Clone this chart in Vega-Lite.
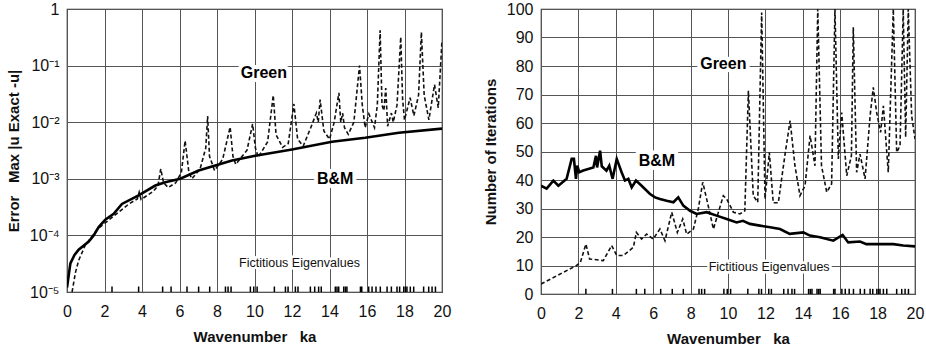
{
  "$schema": "https://vega.github.io/schema/vega-lite/v6.json",
  "background": "white",
  "padding": {"left": 5, "top": 0, "right": 2, "bottom": 2},
  "config": {
    "font": "Liberation Sans",
    "view": {"stroke": "#222", "strokeWidth": 1.2},
    "axis": {
      "labelFont": "Liberation Sans", "labelFontSize": 16, "labelColor": "#111",
      "titleFont": "Liberation Sans", "titleFontSize": 15, "titleFontWeight": "bold", "titleColor": "#111",
      "ticks": false, "domain": false, "grid": true, "gridColor": "#555", "gridWidth": 1, "gridOpacity": 1,
      "labelPadding": 8, "labelOverlap": false, "labelFlush": false
    },
    "axisX": {"labelPadding": 11, "titlePadding": 10},
    "axisY": {"titlePadding": 8}
  },
  "datasets": {
    "eig": [
      {"ka": 2.40}, {"ka": 3.82}, {"ka": 5.10}, {"ka": 5.55}, {"ka": 6.40}, {"ka": 7.02}, {"ka": 7.61},
      {"ka": 8.45}, {"ka": 8.59}, {"ka": 8.75}, {"ka": 9.78}, {"ka": 9.96}, {"ka": 10.14}, {"ka": 11.06},
      {"ka": 11.65}, {"ka": 11.79}, {"ka": 12.18}, {"ka": 12.32}, {"ka": 12.98}, {"ka": 13.21}, {"ka": 13.42},
      {"ka": 13.56}, {"ka": 14.31}, {"ka": 14.40}, {"ka": 14.49}, {"ka": 14.76}, {"ka": 14.85}, {"ka": 14.93},
      {"ka": 15.65}, {"ka": 15.72}, {"ka": 16.09}, {"ka": 16.27}, {"ka": 16.48}, {"ka": 16.71}, {"ka": 17.07},
      {"ka": 17.30}, {"ka": 17.60}, {"ka": 17.74}, {"ka": 17.96}, {"ka": 18.05}, {"ka": 18.13}, {"ka": 18.31},
      {"ka": 18.49}, {"ka": 19.02}, {"ka": 19.29}, {"ka": 19.47}, {"ka": 19.65}
    ],
    "left_bm": [
      {"ka": 0.0, "err": 1.2e-5}, {"ka": 0.18, "err": 3.2e-5}, {"ka": 0.4, "err": 4.5e-5}, {"ka": 0.62, "err": 5.6e-5},
      {"ka": 1.16, "err": 7.8e-5}, {"ka": 1.42, "err": 1.0e-4}, {"ka": 1.69, "err": 1.4e-4}, {"ka": 2.04, "err": 1.9e-4},
      {"ka": 2.49, "err": 2.4e-4}, {"ka": 2.93, "err": 3.6e-4}, {"ka": 3.82, "err": 5.1e-4}, {"ka": 4.71, "err": 7.6e-4},
      {"ka": 5.24, "err": 8.7e-4}, {"ka": 6.04, "err": 1.0e-3}, {"ka": 7.02, "err": 1.4e-3}, {"ka": 8.8, "err": 2.1e-3},
      {"ka": 10.04, "err": 2.55e-3}, {"ka": 12.0, "err": 3.3e-3}, {"ka": 14.13, "err": 4.5e-3}, {"ka": 15.9, "err": 5.3e-3},
      {"ka": 17.7, "err": 6.5e-3}, {"ka": 20.0, "err": 7.7e-3}
    ],
    "left_green": [
      {"ka": 0.27, "err": 1.0e-5}, {"ka": 0.45, "err": 2.2e-5}, {"ka": 0.62, "err": 3.6e-5}, {"ka": 0.98, "err": 6.8e-5},
      {"ka": 1.69, "err": 1.35e-4}, {"ka": 2.5, "err": 2.2e-4}, {"ka": 3.3, "err": 3.6e-4}, {"ka": 3.75, "err": 4.4e-4},
      {"ka": 3.85, "err": 5.8e-4}, {"ka": 3.95, "err": 4.3e-4}, {"ka": 4.6, "err": 6.0e-4}, {"ka": 4.85, "err": 7.5e-4},
      {"ka": 5.0, "err": 1.5e-3}, {"ka": 5.15, "err": 8.5e-4}, {"ka": 5.4, "err": 7.0e-4}, {"ka": 5.8, "err": 8.5e-4},
      {"ka": 6.1, "err": 1.3e-3}, {"ka": 6.3, "err": 4.7e-3}, {"ka": 6.5, "err": 1.3e-3}, {"ka": 6.66, "err": 1.0e-3},
      {"ka": 7.1, "err": 1.5e-3}, {"ka": 7.4, "err": 3.5e-3}, {"ka": 7.5, "err": 1.28e-2}, {"ka": 7.6, "err": 2.5e-3},
      {"ka": 7.87, "err": 1.4e-3}, {"ka": 8.3, "err": 2.2e-3}, {"ka": 8.7, "err": 8.2e-3}, {"ka": 8.85, "err": 2.5e-3},
      {"ka": 9.0, "err": 1.8e-3}, {"ka": 9.6, "err": 3.2e-3}, {"ka": 9.9, "err": 9.3e-3}, {"ka": 10.05, "err": 3.5e-3},
      {"ka": 10.2, "err": 2.4e-3}, {"ka": 10.7, "err": 4.5e-3}, {"ka": 11.0, "err": 3.0e-2}, {"ka": 11.15, "err": 6.0e-3},
      {"ka": 11.5, "err": 3.6e-3}, {"ka": 11.8, "err": 4.2e-3}, {"ka": 12.1, "err": 2.1e-2}, {"ka": 12.3, "err": 5.0e-3},
      {"ka": 12.6, "err": 3.8e-3}, {"ka": 13.0, "err": 8.0e-3}, {"ka": 13.3, "err": 1.45e-2}, {"ka": 13.4, "err": 1.0e-2},
      {"ka": 13.5, "err": 2.5e-2}, {"ka": 13.7, "err": 7.0e-3}, {"ka": 14.0, "err": 5.0e-3}, {"ka": 14.25, "err": 1.0e-2},
      {"ka": 14.5, "err": 3.3e-2}, {"ka": 14.6, "err": 1.0e-2}, {"ka": 14.7, "err": 1.45e-2}, {"ka": 14.8, "err": 8.0e-3},
      {"ka": 15.0, "err": 6.1e-3}, {"ka": 15.3, "err": 1.0e-2}, {"ka": 15.6, "err": 0.10}, {"ka": 15.75, "err": 2.0e-2},
      {"ka": 15.9, "err": 8.0e-3}, {"ka": 16.1, "err": 1.4e-2}, {"ka": 16.4, "err": 8.0e-3}, {"ka": 16.55, "err": 2.0e-2},
      {"ka": 16.7, "err": 0.42}, {"ka": 16.8, "err": 2.0e-2}, {"ka": 16.9, "err": 1.6e-2}, {"ka": 17.0, "err": 4.0e-2},
      {"ka": 17.1, "err": 8.5e-3}, {"ka": 17.3, "err": 1.45e-2}, {"ka": 17.4, "err": 1.0e-2}, {"ka": 17.6, "err": 2.0e-2},
      {"ka": 17.8, "err": 0.32}, {"ka": 17.9, "err": 2.5e-2}, {"ka": 18.0, "err": 1.1e-2}, {"ka": 18.3, "err": 2.7e-2},
      {"ka": 18.5, "err": 1.3e-2}, {"ka": 18.75, "err": 3.0e-2}, {"ka": 18.9, "err": 0.39}, {"ka": 19.05, "err": 3.0e-2},
      {"ka": 19.3, "err": 1.1e-2}, {"ka": 19.6, "err": 4.6e-2}, {"ka": 19.8, "err": 1.8e-2}, {"ka": 20.0, "err": 0.28}
    ],
    "right_bm": [
      {"ka": 0.0, "it": 38.0}, {"ka": 0.3, "it": 37.0}, {"ka": 0.66, "it": 39.8}, {"ka": 0.93, "it": 38.0},
      {"ka": 1.37, "it": 40.4}, {"ka": 1.64, "it": 47.4}, {"ka": 1.76, "it": 47.4}, {"ka": 1.87, "it": 40.4},
      {"ka": 1.94, "it": 45.0}, {"ka": 2.05, "it": 42.7}, {"ka": 2.26, "it": 43.3}, {"ka": 2.8, "it": 44.4},
      {"ka": 2.94, "it": 48.5}, {"ka": 3.0, "it": 44.4}, {"ka": 3.16, "it": 50.3}, {"ka": 3.25, "it": 44.8},
      {"ka": 3.5, "it": 43.3}, {"ka": 3.65, "it": 45.0}, {"ka": 3.83, "it": 40.4}, {"ka": 4.05, "it": 47.4},
      {"ka": 4.31, "it": 42.7}, {"ka": 4.49, "it": 39.8}, {"ka": 4.67, "it": 40.4}, {"ka": 4.85, "it": 37.4},
      {"ka": 5.08, "it": 39.8}, {"ka": 5.38, "it": 38.0}, {"ka": 5.83, "it": 35.1}, {"ka": 6.1, "it": 33.9},
      {"ka": 6.36, "it": 33.3}, {"ka": 6.72, "it": 32.7}, {"ka": 7.08, "it": 32.2}, {"ka": 7.34, "it": 33.9},
      {"ka": 7.61, "it": 31.0}, {"ka": 7.97, "it": 29.2}, {"ka": 8.32, "it": 28.1}, {"ka": 8.86, "it": 28.7},
      {"ka": 9.39, "it": 27.5}, {"ka": 9.93, "it": 26.3}, {"ka": 10.46, "it": 25.1}, {"ka": 10.8, "it": 25.7},
      {"ka": 11.17, "it": 24.6}, {"ka": 11.7, "it": 24.0}, {"ka": 12.25, "it": 23.4}, {"ka": 12.78, "it": 22.8},
      {"ka": 13.3, "it": 21.1}, {"ka": 14.03, "it": 21.6}, {"ka": 14.38, "it": 20.5}, {"ka": 14.92, "it": 19.9},
      {"ka": 15.63, "it": 18.7}, {"ka": 16.13, "it": 20.7}, {"ka": 16.43, "it": 18.1}, {"ka": 17.06, "it": 18.4},
      {"ka": 17.4, "it": 17.5}, {"ka": 18.84, "it": 17.5}, {"ka": 19.37, "it": 17.0}, {"ka": 20.0, "it": 16.7}
    ],
    "right_green": [
      {"ka": 0.0, "it": 3.5}, {"ka": 1.9, "it": 10.0}, {"ka": 2.1, "it": 11.0}, {"ka": 2.4, "it": 17.5},
      {"ka": 2.6, "it": 12.3}, {"ka": 3.33, "it": 11.7}, {"ka": 3.78, "it": 17.0}, {"ka": 4.05, "it": 13.5},
      {"ka": 4.4, "it": 13.5}, {"ka": 4.94, "it": 16.4}, {"ka": 5.1, "it": 21.6}, {"ka": 5.38, "it": 19.3},
      {"ka": 5.65, "it": 21.0}, {"ka": 6.0, "it": 19.3}, {"ka": 6.36, "it": 22.8}, {"ka": 6.63, "it": 18.7},
      {"ka": 6.99, "it": 28.7}, {"ka": 7.29, "it": 21.6}, {"ka": 7.58, "it": 26.3}, {"ka": 7.79, "it": 21.0},
      {"ka": 8.15, "it": 22.8}, {"ka": 8.41, "it": 29.8}, {"ka": 8.65, "it": 39.2}, {"ka": 8.86, "it": 33.3},
      {"ka": 9.22, "it": 22.8}, {"ka": 9.75, "it": 34.5}, {"ka": 9.93, "it": 33.3}, {"ka": 10.29, "it": 28.7},
      {"ka": 10.64, "it": 28.1}, {"ka": 10.9, "it": 29.2}, {"ka": 11.09, "it": 71.3}, {"ka": 11.35, "it": 34.5},
      {"ka": 11.59, "it": 32.2}, {"ka": 11.8, "it": 98.8}, {"ka": 11.98, "it": 33.3}, {"ka": 12.21, "it": 49.7},
      {"ka": 12.42, "it": 32.0}, {"ka": 12.69, "it": 32.0}, {"ka": 13.05, "it": 49.0}, {"ka": 13.32, "it": 60.8},
      {"ka": 13.58, "it": 45.0}, {"ka": 13.85, "it": 34.5}, {"ka": 14.12, "it": 38.0}, {"ka": 14.39, "it": 55.6},
      {"ka": 14.65, "it": 45.0}, {"ka": 14.8, "it": 100.0}, {"ka": 15.0, "it": 45.0}, {"ka": 15.28, "it": 35.7},
      {"ka": 15.54, "it": 38.6}, {"ka": 15.72, "it": 100.0}, {"ka": 15.9, "it": 47.4}, {"ka": 16.08, "it": 63.7},
      {"ka": 16.35, "it": 41.5}, {"ka": 16.6, "it": 48.5}, {"ka": 16.7, "it": 93.6}, {"ka": 16.88, "it": 42.7},
      {"ka": 17.06, "it": 49.1}, {"ka": 17.33, "it": 40.4}, {"ka": 17.6, "it": 62.6}, {"ka": 17.77, "it": 72.5},
      {"ka": 17.95, "it": 63.7}, {"ka": 18.16, "it": 56.7}, {"ka": 18.31, "it": 66.0}, {"ka": 18.57, "it": 42.7},
      {"ka": 18.84, "it": 100.0}, {"ka": 19.02, "it": 49.7}, {"ka": 19.2, "it": 52.0}, {"ka": 19.37, "it": 100.0},
      {"ka": 19.5, "it": 55.0}, {"ka": 19.64, "it": 100.0}, {"ka": 19.82, "it": 62.6}, {"ka": 20.0, "it": 54.4}
    ],
    "left_bold": [
      {"ka": 10.5, "v": 0.075, "t": "Green"},
      {"ka": 14.3, "v": 0.001, "t": "B&M"}
    ],
    "left_plain": [
      {"ka": 12.4, "v": 3.2e-5, "t": "Fictitious Eigenvalues"}
    ],
    "right_bold": [
      {"ka": 9.75, "v": 80.7, "t": "Green"},
      {"ka": 6.2, "v": 46.8, "t": "B&M"}
    ],
    "right_plain": [
      {"ka": 12.2, "v": 9.4, "t": "Fictitious Eigenvalues"}
    ]
  },
  "hconcat": [
    {
      "width": 375, "height": 283,
      "layer": [
        {
          "data": {"name": "left_green"},
          "mark": {"type": "line", "color": "#111", "strokeWidth": 1.6, "strokeDash": [4, 2.5], "clip": true},
          "encoding": {
            "x": {"field": "ka", "type": "quantitative", "scale": {"domain": [0, 20], "nice": false},
                  "axis": {"values": [0, 2, 4, 6, 8, 10, 12, 14, 16, 18, 20], "tickCount": 30, "format": "d", "labelOverlap": false, "labelFlush": false, "labelBound": false, "title": "Wavenumber\u00a0\u00a0\u00a0ka"}},
            "y": {"field": "err", "type": "quantitative", "scale": {"type": "log", "domain": [1e-5, 1], "nice": false},
                  "axis": {"values": [1e-5, 1e-4, 1e-3, 1e-2, 1e-1, 1], "tickCount": 30, "labelOverlap": false, "labelFlush": false, "title": "Error\u00a0\u00a0\u00a0Max |u\u00a0Exact\u00a0-u|",
                           "labelExpr": "datum.value >= 1 ? '1' : '10' + ['⁻⁵','⁻⁴','⁻³','⁻²','⁻¹'][round(log(datum.value)/LN10) + 5]"}}
          }
        },
        {
          "data": {"name": "left_bm"},
          "mark": {"type": "line", "color": "#000", "strokeWidth": 2.6, "clip": true},
          "encoding": {
            "x": {"field": "ka", "type": "quantitative"},
            "y": {"field": "err", "type": "quantitative"}
          }
        },
        {
          "data": {"name": "eig"},
          "mark": {"type": "rule", "color": "#000", "strokeWidth": 1.5},
          "encoding": {
            "x": {"field": "ka", "type": "quantitative"},
            "y": {"datum": 1e-5},
            "y2": {"datum": 1.25e-5}
          }
        },
        {
          "data": {"name": "left_bold"},
          "mark": {"type": "text", "color": "white", "stroke": "white", "strokeWidth": 8, "fontSize": 16, "fontWeight": "bold"},
          "encoding": {
            "x": {"field": "ka", "type": "quantitative"},
            "y": {"field": "v", "type": "quantitative"},
            "text": {"field": "t"}
          }
        },
        {
          "data": {"name": "left_bold"},
          "mark": {"type": "text", "color": "#000", "fontSize": 16, "fontWeight": "bold"},
          "encoding": {
            "x": {"field": "ka", "type": "quantitative"},
            "y": {"field": "v", "type": "quantitative"},
            "text": {"field": "t"}
          }
        },
        {
          "data": {"name": "left_plain"},
          "mark": {"type": "text", "color": "white", "stroke": "white", "strokeWidth": 5, "fontSize": 12.5},
          "encoding": {
            "x": {"field": "ka", "type": "quantitative"},
            "y": {"field": "v", "type": "quantitative"},
            "text": {"field": "t"}
          }
        },
        {
          "data": {"name": "left_plain"},
          "mark": {"type": "text", "color": "#111", "fontSize": 12.5},
          "encoding": {
            "x": {"field": "ka", "type": "quantitative"},
            "y": {"field": "v", "type": "quantitative"},
            "text": {"field": "t"}
          }
        }
      ]
    },
    {
      "width": 374, "height": 285,
      "layer": [
        {
          "data": {"name": "right_green"},
          "mark": {"type": "line", "color": "#111", "strokeWidth": 1.6, "strokeDash": [4, 2.5], "clip": true},
          "encoding": {
            "x": {"field": "ka", "type": "quantitative", "scale": {"domain": [0, 20], "nice": false},
                  "axis": {"values": [0, 2, 4, 6, 8, 10, 12, 14, 16, 18, 20], "tickCount": 30, "format": "d", "labelOverlap": false, "labelFlush": false, "labelBound": false, "title": "Wavenumber\u00a0\u00a0\u00a0ka"}},
            "y": {"field": "it", "type": "quantitative", "scale": {"domain": [0, 100], "nice": false},
                  "axis": {"values": [0, 10, 20, 30, 40, 50, 60, 70, 80, 90, 100], "tickCount": 30, "format": "d", "labelOverlap": false, "labelFlush": false, "title": "Number of Iterations"}}
          }
        },
        {
          "data": {"name": "right_bm"},
          "mark": {"type": "line", "color": "#000", "strokeWidth": 2.6, "clip": true},
          "encoding": {
            "x": {"field": "ka", "type": "quantitative"},
            "y": {"field": "it", "type": "quantitative"}
          }
        },
        {
          "data": {"name": "eig"},
          "mark": {"type": "rule", "color": "#000", "strokeWidth": 1.5},
          "encoding": {
            "x": {"field": "ka", "type": "quantitative"},
            "y": {"datum": 0},
            "y2": {"datum": 1.8}
          }
        },
        {
          "data": {"name": "right_bold"},
          "mark": {"type": "text", "color": "white", "stroke": "white", "strokeWidth": 8, "fontSize": 16, "fontWeight": "bold"},
          "encoding": {
            "x": {"field": "ka", "type": "quantitative"},
            "y": {"field": "v", "type": "quantitative"},
            "text": {"field": "t"}
          }
        },
        {
          "data": {"name": "right_bold"},
          "mark": {"type": "text", "color": "#000", "fontSize": 16, "fontWeight": "bold"},
          "encoding": {
            "x": {"field": "ka", "type": "quantitative"},
            "y": {"field": "v", "type": "quantitative"},
            "text": {"field": "t"}
          }
        },
        {
          "data": {"name": "right_plain"},
          "mark": {"type": "text", "color": "white", "stroke": "white", "strokeWidth": 5, "fontSize": 12.5},
          "encoding": {
            "x": {"field": "ka", "type": "quantitative"},
            "y": {"field": "v", "type": "quantitative"},
            "text": {"field": "t"}
          }
        },
        {
          "data": {"name": "right_plain"},
          "mark": {"type": "text", "color": "#111", "fontSize": 12.5},
          "encoding": {
            "x": {"field": "ka", "type": "quantitative"},
            "y": {"field": "v", "type": "quantitative"},
            "text": {"field": "t"}
          }
        }
      ]
    }
  ],
  "spacing": 30
}
